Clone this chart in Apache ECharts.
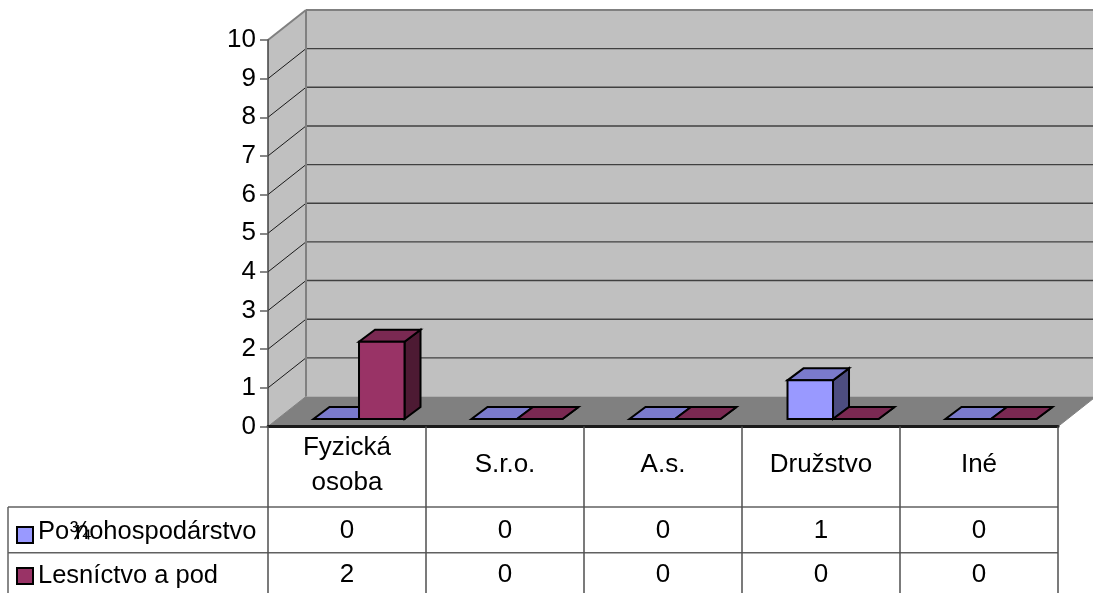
<!DOCTYPE html>
<html>
<head>
<meta charset="utf-8">
<style>html,body{margin:0;padding:0;background:#fff}#c{width:1093px;height:593px}</style>
<script src="https://cdn.jsdelivr.net/npm/echarts@6/dist/echarts.min.js"></script>
</head>
<body>
<div id="c"></div>
<script>
var categories = ['Fyzická\nosoba', 'S.r.o.', 'A.s.', 'Družstvo', 'Iné'];
var seriesNames = ['Po¾nohospodárstvo', 'Lesníctvo a pod'];
var agriculture = [0, 0, 0, 1, 0];
var forestry = [2, 0, 0, 0, 0];
var yTicks = [0, 1, 2, 3, 4, 5, 6, 7, 8, 9, 10];

var FONT = '"Liberation Sans", Arial, sans-serif';
var FS = 26;
var WALL_DX = 38, WALL_DY = 30, BAR_DX = 16, BAR_DY = 12;
var BAR_LIFT = 7.5, BAR_FRAC = 0.288;
var ROW_Y = [531, 575];
var palette = [
  {front: '#9999FF', top: '#7A7ACC', side: '#4D4D80'},
  {front: '#993366', top: '#7A2952', side: '#4D1A33'}
];

function poly(points, fill, stroke, lw) {
  return {type: 'polygon', shape: {points: points},
    style: {fill: fill, stroke: stroke || null, lineWidth: lw || 0, lineJoin: 'miter'}};
}
function line(x1, y1, x2, y2, stroke, lw) {
  return {type: 'line', shape: {x1: x1, y1: y1, x2: x2, y2: y2},
    style: {stroke: stroke, lineWidth: lw, fill: null}};
}

function renderWalls(params, api) {
  var c = params.coordSys, l = c.x, r = c.x + c.width, t = c.y, b = c.y + c.height;
  var d = WALL_DX, e = WALL_DY;
  return {type: 'group', children: [
    poly([[l + d, t - e], [r + d, t - e], [r + d, b - e], [l + d, b - e]], '#C0C0C0'),
    poly([[l, t], [l + d, t - e], [l + d, b - e], [l, b]], '#C0C0C0'),
    poly([[l, b], [r, b], [r + d, b - e], [l + d, b - e]], '#808080'),
    line(l, t, l + d, t - e, '#808080', 2),
    line(l + d, t - e, r + d, t - e, '#808080', 2),
    line(r, b, r + d, b - e, '#808080', 1),
    line(l, b, l + d, b - e, '#808080', 1)
  ]};
}
function renderGrid(params, api) {
  var c = params.coordSys, v = api.value(1);
  var p = api.coord([0, v]), y = p[1], l = c.x, r = c.x + c.width;
  var d = WALL_DX, e = WALL_DY;
  if (v === 0 || v === 10) return {type: 'group', children: []};
  return {type: 'group', children: [
    line(l, y, l + d, y - e, '#1a1a1a', 1),
    line(l + d, y - e, r + d, y - e, '#404040', 1.4)
  ]};
}
function renderBackEdge(params, api) {
  var c = params.coordSys, l = c.x + WALL_DX;
  return line(l, c.y - WALL_DY, l, c.y + c.height - WALL_DY, '#808080', 2);
}
function renderBar(params, api) {
  var s = params.seriesIndex - 3;
  var i = api.value(0), v = api.value(1);
  var band = api.size([1, 0])[0];
  var w = band * BAR_FRAC;
  var base = api.coord([i, 0]), top = api.coord([i, v]);
  var x0 = base[0] - band / 2 + w + s * w, x1 = x0 + w;
  var yb = base[1] - BAR_LIFT, yt = top[1] - BAR_LIFT;
  var col = palette[s], dx = BAR_DX, dy = BAR_DY, lw = 2;
  return {type: 'group', children: [
    poly([[x1, yb], [x1 + dx, yb - dy], [x1 + dx, yt - dy], [x1, yt]], col.side, '#000', lw),
    poly([[x0, yt], [x1, yt], [x1 + dx, yt - dy], [x0 + dx, yt - dy]], col.top, '#000', lw),
    poly([[x0, yb], [x1, yb], [x1, yt], [x0, yt]], col.front, '#000', lw),
    {type: 'text', x: base[0], y: ROW_Y[s], style: {text: String(v), font: FS + 'px ' + FONT,
      fill: '#000', align: 'center', verticalAlign: 'middle'}}
  ]};
}

function indexed(vals) { return vals.map(function (v, i) { return [i, v]; }); }

function legendFor(name, top, formatter, rich) {
  return {
    data: [{name: name, icon: 'rect'}], orient: 'vertical', left: 16, top: top, padding: 0,
    itemWidth: 16, itemHeight: 16, selectedMode: false,
    itemStyle: {borderColor: '#000', borderWidth: 2},
    formatter: formatter,
    textStyle: {fontFamily: FONT, fontSize: 25.5, color: '#000', padding: [0, 0, 6, 0], rich: rich}
  };
}
/* the reference overprints the "n" on the mis-encoded glyph, whose advance is that of a narrow letter */
var overprint = {
  a: {fontFamily: FONT, fontSize: 25.5, color: '#000', width: 37},
  b: {fontFamily: FONT, fontSize: 25.5, color: '#000'}
};
function overprintName(name) {
  var cut = name.indexOf('¾') + 1;
  return '{a|' + name.slice(0, cut) + '}{b|' + name.slice(cut) + '}';
}

var chart = echarts.init(document.getElementById('c'), null, {renderer: 'canvas'});
chart.setOption({
  animation: false,
  backgroundColor: '#fff',
  textStyle: {fontFamily: FONT},
  grid: {left: 268, right: 35, top: 40, bottom: 166.5, containLabel: false},
  legend: [
    legendFor(seriesNames[0], 519, overprintName, overprint),
    legendFor(seriesNames[1], 563, '{name}')
  ],
  xAxis: {
    type: 'category', data: categories, z: 6,
    axisLine: {lineStyle: {color: '#1a1a1a', width: 3}},
    axisTick: {show: true, length: 167, lineStyle: {color: '#505050', width: 1.5}},
    axisLabel: {interval: 0, margin: 38.5, fontSize: FS, fontFamily: FONT, color: '#000',
      lineHeight: 35, verticalAlign: 'middle'},
    splitLine: {show: false}
  },
  yAxis: {
    type: 'value', min: 0, max: 10, interval: 1, z: 6,
    axisLine: {show: true, lineStyle: {color: '#404040', width: 1.5}},
    axisTick: {show: true, length: 8, lineStyle: {color: '#606060', width: 1.5}},
    axisLabel: {margin: 12, fontSize: FS, fontFamily: FONT, color: '#000', padding: [2, 0, 0, 0]},
    splitLine: {show: false}
  },
  graphic: [
    {type: 'line', z: 1, shape: {x1: 8, y1: 507, x2: 1058, y2: 507}, style: {stroke: '#606060', lineWidth: 1.5}},
    {type: 'line', z: 1, shape: {x1: 8, y1: 552.7, x2: 1058, y2: 552.7}, style: {stroke: '#606060', lineWidth: 1.5}},
    {type: 'line', z: 1, shape: {x1: 8, y1: 507, x2: 8, y2: 593}, style: {stroke: '#606060', lineWidth: 1.5}}
  ],
  series: [
    {type: 'custom', name: 'walls', z: 1, renderItem: renderWalls, data: [[0, 0]], silent: true},
    {type: 'custom', name: 'grid', z: 2, renderItem: renderGrid, data: yTicks.map(function (v) { return [0, v]; }), silent: true},
    {type: 'custom', name: 'edge', z: 2, renderItem: renderBackEdge, data: [[0, 0]], silent: true},
    {type: 'custom', name: seriesNames[0], z: 3, renderItem: renderBar, data: indexed(agriculture),
      itemStyle: {color: palette[0].front}, encode: {x: 0, y: 1}},
    {type: 'custom', name: seriesNames[1], z: 4, renderItem: renderBar, data: indexed(forestry),
      itemStyle: {color: palette[1].front}, encode: {x: 0, y: 1}}
  ]
});
</script>
</body>
</html>
